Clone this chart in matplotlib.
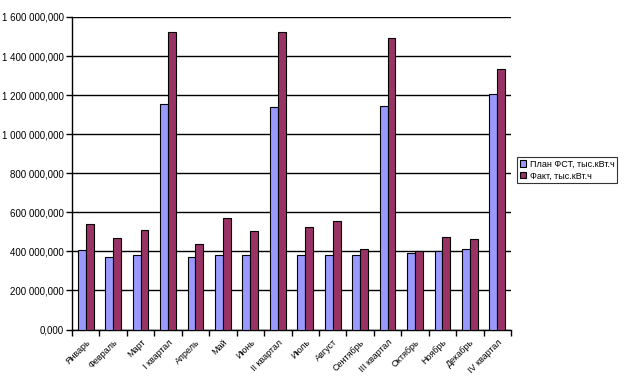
import matplotlib
matplotlib.use("Agg")
import matplotlib.pyplot as plt
import numpy as np
from matplotlib.ticker import FuncFormatter, MultipleLocator

categories = ["Январь", "Февраль", "Март", "I квартал", "Апрель", "Май", "Июнь",
              "II квартал", "Июль", "Август", "Сентябрь", "III квартал",
              "Октябрь", "Ноябрь", "Декабрь", "IV квартал"]
plan = [406e3, 369e3, 384e3, 1157e3, 369e3, 384e3, 384e3, 1137e3,
        379e3, 379e3, 384e3, 1142e3, 394e3, 400e3, 410e3, 1204e3]
fact = [538e3, 471e3, 512e3, 1521e3, 440e3, 573e3, 502e3, 1521e3,
        527e3, 553e3, 410e3, 1490e3, 400e3, 476e3, 461e3, 1336e3]
series_names = ["План ФСТ, тыс.кВт.ч", "Факт, тыс.кВт.ч"]

plt.rcParams['font.family'] = ['Liberation Sans', 'DejaVu Sans']

fig = plt.figure(figsize=(6.24, 3.87), dpi=100)
ax = fig.add_axes([72/624, 1 - 329.5/387, (511-72)/624, (329.5-17)/387])

n = len(categories)
x = np.arange(n)
w = 0.286
ax.bar(x - w/2, plan, w, color="#9999FF", edgecolor="black", linewidth=0.8,
       label=series_names[0], zorder=3)
ax.bar(x + w/2, fact, w, color="#993366", edgecolor="black", linewidth=0.8,
       label=series_names[1], zorder=3)

ax.set_xlim(-0.5, n - 0.5)
ax.set_ylim(0, 1.6e6)
ax.yaxis.set_major_locator(MultipleLocator(2e5))

def fmt(v, pos):
    s = f"{int(round(v)):,}".replace(",", " ")
    return s + ",000"
ax.yaxis.set_major_formatter(FuncFormatter(fmt))
ax.grid(axis="y", color="black", linewidth=1.0, zorder=0)
ax.tick_params(axis="y", labelsize=7, length=4, width=1, direction="out", pad=2)

ax.set_xticks(np.arange(-0.5, n, 1.0))
ax.set_xticklabels([])
ax.set_xticks(x, minor=True)
ax.set_xticklabels(categories, minor=True, rotation=45, ha="right",
                   rotation_mode="anchor", fontsize=6.5)
ax.tick_params(axis="x", which="major", length=4, width=1, direction="out")
ax.tick_params(axis="x", which="minor", length=0, pad=6)

for s in ["top", "right"]:
    ax.spines[s].set_visible(False)
ax.spines["left"].set_linewidth(1)
ax.spines["bottom"].set_linewidth(1)

leg = fig.legend(loc="upper left", bbox_to_anchor=(517/624, 1 - 157/387),
                 fontsize=6.5, frameon=True, fancybox=False, edgecolor="black",
                 handlelength=0.7, handleheight=0.7, handletextpad=0.4,
                 borderpad=0.3, labelspacing=0.3, borderaxespad=0)
leg.get_frame().set_linewidth(0.8)

fig.savefig("out.png", dpi=100)
